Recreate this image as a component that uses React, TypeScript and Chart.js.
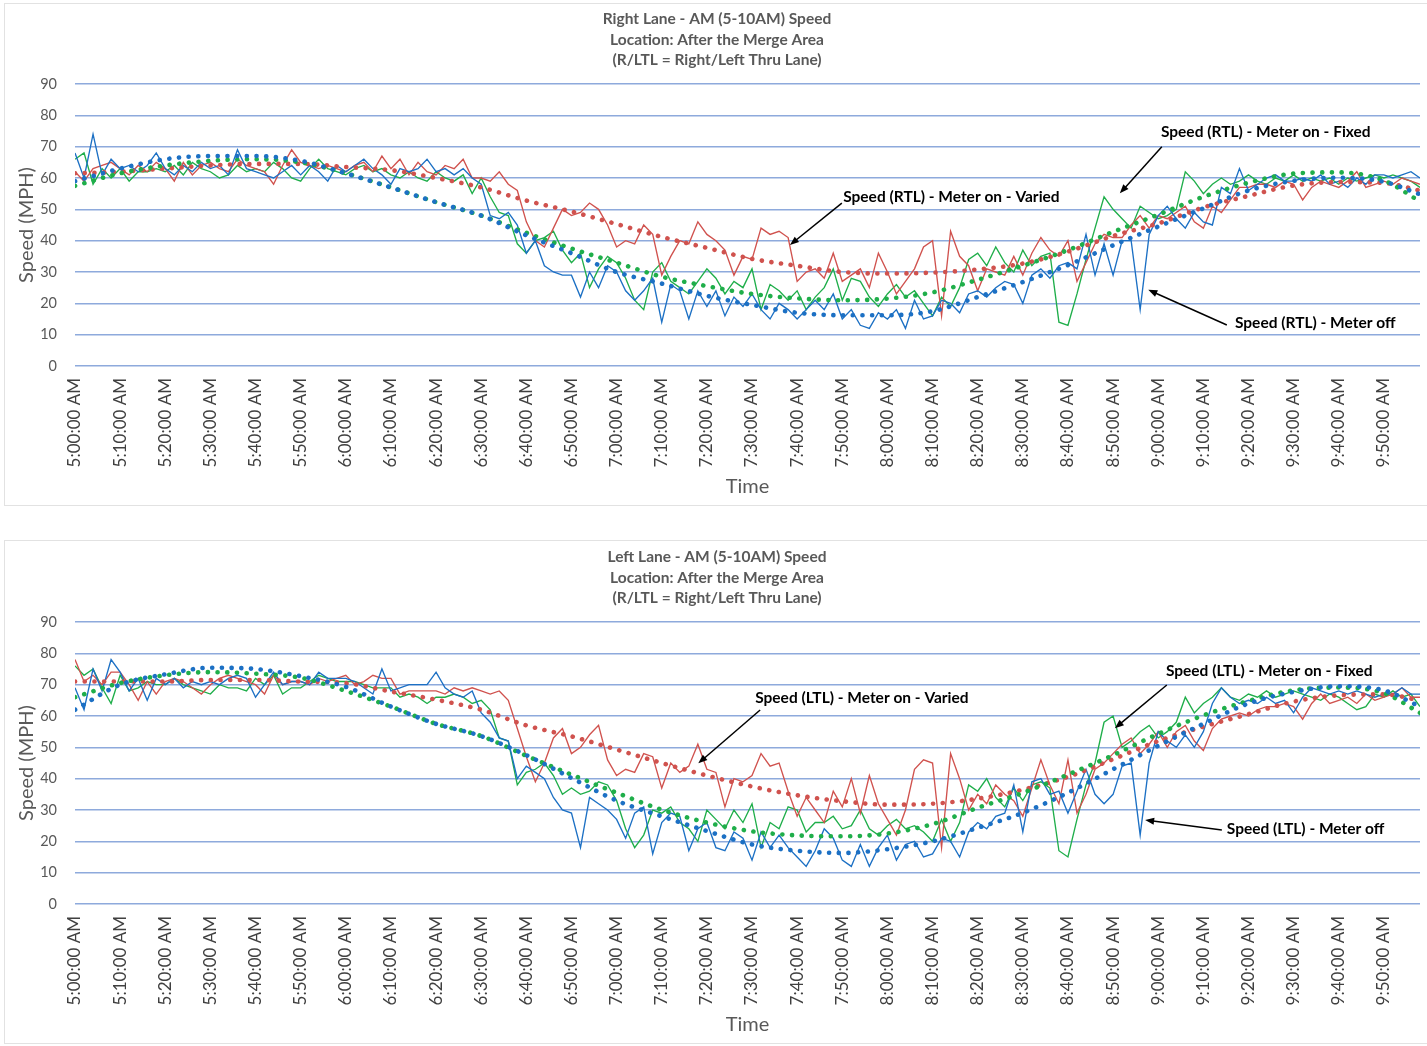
import React, { useEffect, useRef } from "react";
import { Chart, registerables } from "chart.js";

Chart.register(...registerables);

const FONT = "Lato, 'Open Sans', sans-serif";

// minutes after 5:00 AM, one reading every 2 minutes (5:00 ... 9:58)
const TIMES: number[] = Array.from({ length: 150 }, (_, i) => i * 2);

const TICK_LABELS = [
  "5:00:00 AM", "5:10:00 AM", "5:20:00 AM", "5:30:00 AM", "5:40:00 AM", "5:50:00 AM",
  "6:00:00 AM", "6:10:00 AM", "6:20:00 AM", "6:30:00 AM", "6:40:00 AM", "6:50:00 AM",
  "7:00:00 AM", "7:10:00 AM", "7:20:00 AM", "7:30:00 AM", "7:40:00 AM", "7:50:00 AM",
  "8:00:00 AM", "8:10:00 AM", "8:20:00 AM", "8:30:00 AM", "8:40:00 AM", "8:50:00 AM",
  "9:00:00 AM", "9:10:00 AM", "9:20:00 AM", "9:30:00 AM", "9:40:00 AM", "9:50:00 AM",
];

const TREND_TIMES = [0, 10, 20, 30, 40, 50, 60, 70, 80, 90, 100, 110, 120, 130, 140, 150, 160, 170, 180, 190, 200, 210, 220, 230, 240, 250, 260, 270, 280, 290, 298];

// ---------- Right lane (RTL) ----------
const RTL_OFF = [
  68, 60, 74, 61, 66, 63, 64, 62, 64, 68, 63, 61, 64, 62, 65,
  63, 64, 61, 69, 63, 62, 61, 60, 62, 64, 61, 64, 62, 59, 64,
  62, 64, 66, 63, 61, 58, 63, 62, 63, 66, 62, 63, 61, 63, 60,
  58, 48, 47, 49, 45, 36, 40, 32, 30, 29, 29, 22, 30, 25, 32,
  30, 24, 21, 24, 28, 14, 26, 24, 15, 24, 19, 24, 16, 22, 19,
  23, 18, 15, 20, 18, 15, 18, 21, 18, 23, 15, 18, 13, 12, 17,
  15, 18, 12, 21, 15, 16, 21, 20, 17, 23, 24, 22, 25, 27, 26,
  20, 29, 31, 28, 32, 33, 31, 42, 29, 39, 29, 40, 40, 18, 42,
  48, 51, 47, 44, 49, 46, 45, 57, 55, 63, 56, 58, 60, 61, 59,
  59, 60, 59, 61, 58, 59, 57, 60, 58, 61, 61, 60, 61, 62, 60,
];
const RTL_VARIED = [
  62, 59, 63, 64, 65, 63, 61, 64, 62, 65, 63, 59, 65, 61, 64,
  65, 63, 62, 66, 64, 63, 62, 58, 64, 69, 65, 64, 63, 64, 63,
  62, 64, 65, 62, 67, 63, 66, 61, 65, 62, 61, 64, 63, 66, 60,
  60, 59, 62, 58, 56, 46, 40, 38, 44, 50, 48, 49, 52, 50, 45,
  38, 40, 39, 45, 42, 29, 35, 40, 39, 46, 42, 40, 37, 29, 35,
  34, 44, 42, 43, 41, 27, 30, 31, 28, 36, 27, 29, 31, 25, 36,
  30, 23, 27, 31, 38, 40, 16, 43, 35, 32, 24, 31, 30, 29, 35,
  29, 36, 41, 37, 35, 40, 27, 33, 39, 42, 41, 41, 45, 48, 44,
  48, 47, 49, 51, 46, 44, 51, 49, 53, 57, 57, 58, 58, 57, 59,
  58, 53, 57, 59, 58, 57, 59, 62, 57, 58, 59, 58, 60, 59, 58,
];
const RTL_FIXED = [
  66, 68, 58, 63, 60, 63, 59, 62, 62, 63, 62, 64, 61, 65, 63,
  62, 60, 61, 64, 62, 63, 62, 65, 63, 60, 59, 63, 66, 63, 62,
  61, 63, 64, 62, 63, 61, 60, 62, 60, 59, 62, 60, 59, 61, 55,
  60, 54, 49, 48, 39, 36, 40, 41, 43, 37, 33, 36, 25, 31, 35,
  33, 28, 21, 18, 30, 33, 27, 25, 23, 27, 31, 28, 23, 27, 25,
  31, 18, 26, 24, 21, 24, 18, 22, 25, 31, 21, 28, 27, 22, 19,
  23, 26, 22, 24, 20, 16, 22, 19, 25, 34, 36, 32, 38, 33, 30,
  37, 32, 35, 36, 14, 13, 23, 34, 44, 54, 50, 47, 44, 51, 49,
  47, 48, 50, 62, 59, 55, 58, 60, 58, 59, 61, 59, 58, 60, 59,
  61, 59, 60, 59, 60, 58, 60, 59, 60, 61, 60, 61, 60, 59, 57,
];
const RTL_OFF_TREND = [59, 63, 66, 67, 67, 65.5, 61.5, 57, 52.3, 48, 41.7, 36, 30, 26.3, 22.4, 19.5, 17, 16.2, 16.2, 17.5, 22, 26.8, 32.2, 38.5, 44.5, 50.3, 56, 59.1, 60.1, 58.8, 54.8];
const RTL_VARIED_TREND = [61.5, 62, 63, 64, 64.5, 64.5, 63.5, 62.5, 60, 57, 52.8, 49.3, 45.3, 41.2, 37.7, 34.2, 32, 30, 29.5, 29.8, 30.8, 32.7, 36.5, 41.5, 45.5, 50.6, 54.3, 57.6, 58.7, 58.4, 56];
const RTL_FIXED_TREND = [57.5, 61.5, 64, 65.5, 66, 65, 61.5, 57, 52.3, 48, 42.5, 37.5, 33, 28.5, 25.5, 23, 21.6, 21, 21.5, 23.5, 27.5, 32, 37, 42.8, 48.3, 54, 58.5, 61.4, 61.8, 59.2, 52.5];

// ---------- Left lane (LTL) ----------
const LTL_OFF = [
  69, 62, 75, 68, 78, 74, 68, 72, 65, 72, 70, 72, 69, 71, 70,
  71, 70, 72, 73, 72, 66, 70, 74, 70, 71, 71, 70, 74, 72, 72,
  72, 71, 69, 67, 75, 68, 69, 70, 70, 70, 74, 69, 67, 66, 68,
  61, 58, 53, 52, 40, 44, 42, 40, 34, 30, 29, 18, 34, 32, 30,
  27, 21, 29, 31, 16, 26, 29, 28, 17, 24, 26, 18, 17, 23, 21,
  14, 23, 18, 22, 18, 15, 12, 17, 24, 21, 14, 12, 19, 12, 18,
  22, 14, 19, 20, 15, 16, 21, 20, 15, 23, 26, 24, 28, 29, 38,
  23, 39, 40, 35, 36, 29, 36, 43, 35, 32, 35, 44, 45, 22, 45,
  55, 52, 50, 54, 50, 55, 64, 69, 66, 64, 65, 64, 66, 64, 65,
  61, 66, 69, 68, 67, 68, 67, 68, 67, 66, 67, 67, 69, 67, 67,
];
const LTL_VARIED = [
  78, 71, 73, 70, 74, 74, 70, 65, 71, 67, 71, 72, 71, 69, 67,
  70, 72, 73, 72, 71, 70, 67, 73, 70, 71, 71, 70, 72, 71, 72,
  73, 70, 71, 73, 72, 72, 67, 68, 68, 68, 68, 67, 69, 68, 69,
  68, 67, 68, 65, 56, 47, 39, 45, 53, 56, 48, 50, 54, 57, 46,
  41, 43, 42, 48, 47, 37, 45, 42, 44, 51, 43, 42, 31, 40, 39,
  41, 48, 44, 45, 36, 28, 34, 30, 26, 36, 31, 40, 29, 41, 32,
  27, 22, 30, 43, 46, 45, 18, 48, 40, 30, 35, 32, 38, 35, 33,
  28, 37, 46, 38, 32, 46, 29, 35, 43, 45, 48, 51, 53, 48, 51,
  55, 50, 55, 57, 52, 49, 56, 59, 60, 61, 60, 62, 63, 63, 64,
  63, 59, 64, 67, 64, 65, 66, 64, 67, 65, 66, 67, 69, 66, 66,
];
const LTL_FIXED = [
  76, 73, 75, 69, 64, 73, 68, 69, 71, 70, 70, 72, 70, 69, 68,
  67, 70, 69, 69, 68, 72, 70, 73, 67, 69, 69, 71, 73, 72, 71,
  71, 71, 70, 69, 69, 69, 66, 67, 66, 64, 66, 66, 67, 66, 64,
  65, 62, 53, 52, 38, 42, 43, 45, 41, 35, 37, 35, 36, 39, 38,
  33, 24, 18, 22, 30, 29, 31, 26, 24, 20, 30, 27, 24, 30, 26,
  32, 18, 26, 24, 31, 30, 23, 26, 26, 28, 24, 25, 30, 24, 22,
  25, 27, 24, 25, 23, 20, 27, 20, 26, 38, 36, 40, 34, 31, 37,
  33, 38, 39, 37, 17, 15, 27, 38, 45, 58, 60, 50, 52, 55, 57,
  53, 55, 58, 66, 61, 64, 66, 69, 66, 65, 67, 66, 68, 66, 67,
  68, 67, 66, 65, 67, 66, 64, 62, 63, 67, 66, 68, 66, 67, 63,
];
const LTL_OFF_TREND = [62, 70, 73.3, 75.4, 75, 72.7, 69.3, 63, 57.5, 53.6, 47.5, 40.2, 33, 28, 23.3, 19, 17, 16.3, 17.5, 20, 24.3, 29.1, 35.5, 43, 50.5, 57.5, 64, 67.7, 69.5, 68.2, 63];
const LTL_VARIED_TREND = [71, 71, 71, 71.5, 71.5, 71, 70.5, 67.8, 65.2, 62, 57, 53.5, 49.3, 45, 41, 37.5, 34.7, 32.8, 31.7, 32, 33.6, 36.5, 40.6, 46.2, 52, 56.6, 60.6, 64.6, 66.6, 66.9, 65];
const LTL_FIXED_TREND = [66, 70.5, 73, 74, 73.5, 72.2, 68, 63, 57.5, 53.6, 47.3, 41.3, 35.5, 30.1, 26, 23.2, 21.9, 21.6, 22.5, 25.5, 30.7, 35.5, 41.3, 47.5, 54.3, 60.2, 64.8, 68.2, 69.1, 67.3, 61];

const BLUE = "#1c70c4";
const RED = "#d0524e";
const GREEN = "#1fae4a";

type Callout = { text: string; at: [number, number]; from: [number, number]; to: [number, number] };

const RTL_CALLOUTS: Callout[] = [
  { text: "Speed (RTL) - Meter on - Varied", at: [170.2, 53.9], from: [169.9, 52.0], to: [158.4, 38.6] },
  { text: "Speed (RTL) - Meter on - Fixed", at: [240.6, 74.7], from: [240.8, 70.0], to: [231.5, 55.1] },
  { text: "Speed (RTL) - Meter off", at: [257.0, 13.7], from: [255.2, 13.1], to: [237.8, 24.3] },
];
const LTL_CALLOUTS: Callout[] = [
  { text: "Speed (LTL) - Meter on - Varied", at: [150.7, 65.7], from: [151.8, 61.9], to: [138.1, 44.9] },
  { text: "Speed (LTL) - Meter on - Fixed", at: [241.7, 74.4], from: [241.9, 69.9], to: [230.4, 56.1] },
  { text: "Speed (LTL) - Meter off", at: [255.2, 23.9], from: [254.1, 23.6], to: [237.1, 26.8] },
];

// chart title, drawn centred on the chart box (not on the padded layout box)
function makeTitlePlugin(lines: string[]) {
  return {
    id: "boxTitle",
    afterDraw(chart: any) {
      const { ctx } = chart;
      ctx.save();
      ctx.fillStyle = "#595959";
      ctx.font = `bold 15.5px ${FONT}`;
      ctx.textAlign = "center";
      ctx.textBaseline = "middle";
      const cx = chart.width / 2 + 1.5;
      lines.forEach((t, i) => ctx.fillText(t, cx, 16.25 + i * 20.5));
      ctx.restore();
    },
  };
}

function makeCalloutPlugin(items: Callout[]) {
  return {
    id: "callouts",
    afterDatasetsDraw(chart: any) {
      const { ctx } = chart;
      const xs = chart.scales.x;
      const ys = chart.scales.y;
      ctx.save();
      for (const a of items) {
        const x1 = xs.getPixelForValue(a.from[0]);
        const y1 = ys.getPixelForValue(a.from[1]);
        const x2 = xs.getPixelForValue(a.to[0]);
        const y2 = ys.getPixelForValue(a.to[1]);
        const ang = Math.atan2(y2 - y1, x2 - x1);
        const len = 9;
        const w = 3.5;
        ctx.strokeStyle = "#000";
        ctx.lineWidth = 1.5;
        ctx.beginPath();
        ctx.moveTo(x1, y1);
        ctx.lineTo(x2 - Math.cos(ang) * 4, y2 - Math.sin(ang) * 4);
        ctx.stroke();
        ctx.fillStyle = "#000";
        ctx.beginPath();
        ctx.moveTo(x2, y2);
        ctx.lineTo(x2 - len * Math.cos(ang) + w * Math.sin(ang), y2 - len * Math.sin(ang) - w * Math.cos(ang));
        ctx.lineTo(x2 - len * Math.cos(ang) - w * Math.sin(ang), y2 - len * Math.sin(ang) + w * Math.cos(ang));
        ctx.closePath();
        ctx.fill();
        ctx.font = `bold 15.5px ${FONT}`;
        ctx.textAlign = "left";
        ctx.textBaseline = "middle";
        ctx.fillText(a.text, xs.getPixelForValue(a.at[0]), ys.getPixelForValue(a.at[1]));
      }
      ctx.restore();
    },
  };
}

function series(times: number[], vals: number[]) {
  return times.map((t, i) => ({ x: t, y: vals[i] }));
}

type PanelProps = {
  top: number;
  title: string[];
  off: number[];
  varied: number[];
  fixed: number[];
  offTrend: number[];
  variedTrend: number[];
  fixedTrend: number[];
  callouts: Callout[];
};

const W = 1423;
const H = 502;

function Panel(p: PanelProps) {
  const ref = useRef<HTMLCanvasElement>(null);
  useEffect(() => {
    const trend = (vals: number[], color: string) => ({
      data: series(TREND_TIMES, vals),
      borderColor: color,
      borderWidth: 4.6,
      borderDash: [0.1, 9.6],
      borderCapStyle: "round" as const,
      cubicInterpolationMode: "monotone" as const,
      pointRadius: 0,
      fill: false,
    });
    const solid = (vals: number[], color: string) => ({
      data: series(TIMES, vals),
      borderColor: color,
      borderWidth: 1.35,
      tension: 0,
      pointRadius: 0,
      fill: false,
    });
    const chart = new Chart(ref.current as HTMLCanvasElement, {
      type: "line",
      data: {
        datasets: [
          trend(p.offTrend, BLUE),
          trend(p.fixedTrend, GREEN),
          trend(p.variedTrend, RED),
          solid(p.off, BLUE),
          solid(p.varied, RED),
          solid(p.fixed, GREEN),
        ] as any,
      },
      options: {
        responsive: false,
        animation: false,
        devicePixelRatio: 1,
        layout: { padding: { left: 0, right: 7, top: 81, bottom: 0 } },
        events: [],
        plugins: {
          legend: { display: false },
          tooltip: { enabled: false },
          title: { display: false },
        },
        scales: {
          x: {
            type: "linear",
            min: 0,
            max: 298,
            grid: { display: false, drawTicks: false },
            border: { display: false },
            ticks: {
              stepSize: 10,
              autoSkip: false,
              includeBounds: false,
              minRotation: 90,
              maxRotation: 90,
              padding: 12,
              color: "#404040",
              font: { family: FONT, size: 17 },
              callback: (v: any) => TICK_LABELS[Math.round(Number(v) / 10)] ?? "",
            },
            title: {
              display: true,
              text: "Time",
              color: "#595959",
              font: { family: FONT, size: 20 },
              padding: { top: 0, bottom: 6 },
            },
            afterFit: (s: any) => {
              s.height = 139;
            },
          },
          y: {
            min: 0,
            max: 90,
            grid: { color: "#8eaadc", lineWidth: 1.5, drawTicks: false },
            border: { display: false },
            ticks: {
              stepSize: 10,
              padding: 18,
              color: "#595959",
              font: { family: FONT, size: 14.5 },
            },
            title: {
              display: true,
              text: "Speed (MPH)",
              color: "#595959",
              font: { family: FONT, size: 20 },
              padding: { top: 11, bottom: 0 },
            },
            afterFit: (s: any) => {
              s.width = 71;
            },
          },
        },
      } as any,
      plugins: [makeTitlePlugin(p.title), makeCalloutPlugin(p.callouts)],
    });
    return () => chart.destroy();
  }, []);
  return (
    <canvas
      ref={ref}
      width={W}
      height={H}
      style={{ position: "absolute", left: 4, top: p.top, width: W, height: H }}
    />
  );
}

export default function App() {
  return (
    <div style={{ position: "absolute", left: 0, top: 0, width: 1427, height: 1046, background: "#fff", overflow: "hidden" }}>
      <div style={{ position: "absolute", left: 4, top: 3, width: 1440, height: 503, border: "1px solid #e2e2e2", boxSizing: "border-box" }} />
      <div style={{ position: "absolute", left: 4, top: 540, width: 1440, height: 504, border: "1px solid #e2e2e2", boxSizing: "border-box" }} />
      <Panel
        top={3}
        title={["Right Lane - AM (5-10AM) Speed", "Location: After the Merge Area", "(R/LTL = Right/Left Thru Lane)"]}
        off={RTL_OFF}
        varied={RTL_VARIED}
        fixed={RTL_FIXED}
        offTrend={RTL_OFF_TREND}
        variedTrend={RTL_VARIED_TREND}
        fixedTrend={RTL_FIXED_TREND}
        callouts={RTL_CALLOUTS}
      />
      <Panel
        top={541}
        title={["Left Lane - AM (5-10AM) Speed", "Location: After the Merge Area", "(R/LTL = Right/Left Thru Lane)"]}
        off={LTL_OFF}
        varied={LTL_VARIED}
        fixed={LTL_FIXED}
        offTrend={LTL_OFF_TREND}
        variedTrend={LTL_VARIED_TREND}
        fixedTrend={LTL_FIXED_TREND}
        callouts={LTL_CALLOUTS}
      />
    </div>
  );
}
